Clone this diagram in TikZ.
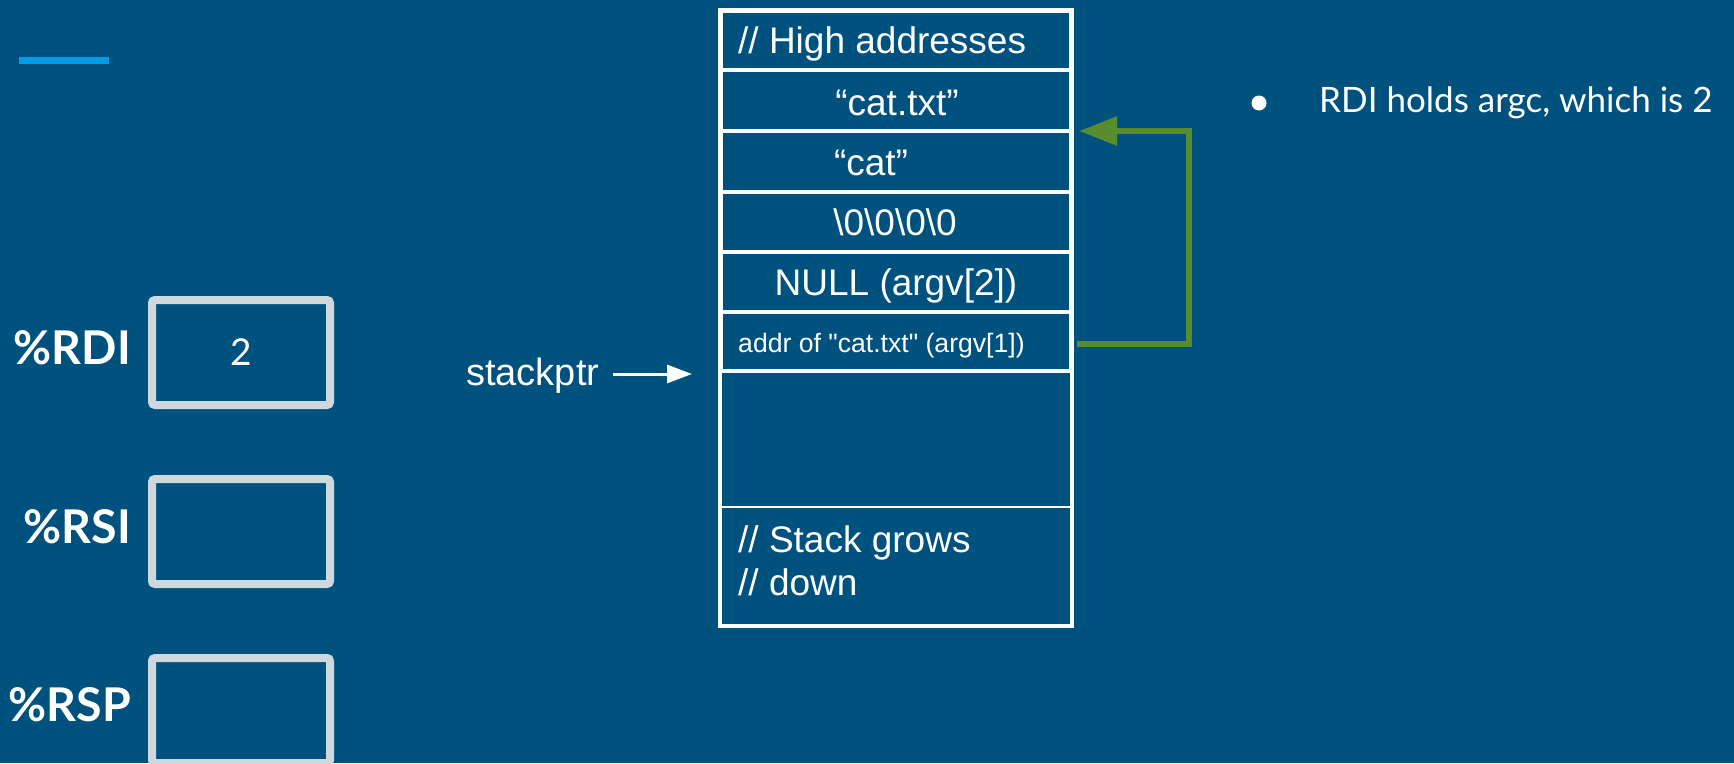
\documentclass[tikz,border=0pt]{standalone}
\usepackage{fontspec}
\newfontfamily\arial{Liberation Sans}
\newfontfamily\lato{Lato}
\usetikzlibrary{arrows.meta,fit}
\definecolor{bg}{RGB}{0,82,126}
\definecolor{regc}{RGB}{207,216,220}
\definecolor{barc}{RGB}{3,155,229}
\definecolor{grn}{RGB}{88,140,46}
\begin{document}
\begin{tikzpicture}[x=1pt,y=-1pt,
  reg/.style={draw=regc, line width=8pt, rounded corners=3pt, minimum width=178pt, minimum height=105pt, inner sep=0pt,
    text=white, font=\lato\fontsize{37}{44}\selectfont},
  reglbl/.style={anchor=east, inner sep=0pt, text=white, font=\lato\bfseries\fontsize{46.5}{54}\selectfont},
  cell/.style={draw=white, line width=4pt, minimum width=350pt, inner sep=0pt},
  thincell/.style={draw=white, line width=2pt, minimum width=350pt, inner sep=0pt},
  stxt/.style={inner sep=0pt, text=white, font=\arial\fontsize{37}{43}\selectfont},
  smalltxt/.style={inner sep=0pt, text=white, font=\arial\fontsize{26.6}{32}\selectfont},
  wa/.style={draw=white, line width=3pt, -{Triangle[length=25pt,width=18pt]}},
  ga/.style={draw=grn, line width=6pt, -{Triangle[length=38pt,width=28pt]}},
  bul/.style={inner sep=0pt, text=white, font=\lato\fontsize{35}{42}\selectfont}]
\useasboundingbox (0,0) rectangle (1734,763);
\fill[bg] (0,0) rectangle (1734,763);
% accent bar
\fill[barc] (19,57) rectangle (109,64);
% registers
\node[reg] (rdi) at (241,352.5) {2};
\node[reg] (rsi) at (241,531.5) {};
\node[reg] (rsp) at (241,710.5) {};
\node[reglbl] (lrdi) at (131,348) {\%RDI};
\node[reglbl] (lrsi) at (131,527) {\%RSI};
\node[reglbl] (lrsp) at (131,705) {\%RSP};
% stack cells
\node[cell, minimum height=59pt] (r1) at (896,40.5) {};
\node[cell, minimum height=61pt] (r2) at (896,100.5) {};
\node[cell, minimum height=61pt] (r3) at (896,161.5) {};
\node[cell, minimum height=60pt] (r4) at (896,222) {};
\node[cell, minimum height=60pt] (r5) at (896,282) {};
\node[cell, minimum height=59pt] (r6) at (896,341.5) {};
\node[thincell, minimum height=136pt] (r7) at (896,439) {};
\node[thincell, minimum height=119pt] (r8) at (896,566.5) {};
\node[fit=(r1)(r8), draw=white, line width=4pt, inner sep=-1pt] (frame) {};
% stack texts
\node[stxt, anchor=base west] (t1) at (738,53) {// High addresses};
\node[stxt, anchor=base] (t2) at (897,115) {“cat.txt”};
\node[stxt, anchor=base] (t3) at (871,175) {“cat”};
\node[stxt, anchor=base] (t4) at (895,235) {\textbackslash 0\textbackslash 0\textbackslash 0\textbackslash 0};
\node[stxt, anchor=base] (t5) at (896,295) {NULL (argv[2])};
\node[smalltxt, anchor=base west] (t6) at (738,352) {addr of "cat.txt" (argv[1])};
\node[stxt, anchor=base west] (t8a) at (738,552) {// Stack grows};
\node[stxt, anchor=base west] (t8b) at (738,595) {// down};
% stack pointer
\node[inner sep=0pt, text=white, font=\arial\fontsize{38}{45}\selectfont, anchor=base west] (sp) at (466,385) {stackptr};
\coordinate (spt) at (692,374);
\draw[wa] ([xshift=14pt]sp.east |- spt) -- (spt);
% green pointer arrow
\draw[ga] ([xshift=4pt]r6.east |- 0,344) -- (1189,344) |- ([xshift=6pt,yshift=-2pt]r3.north east);
% bullet
\node[circle, fill=white, minimum size=15pt, inner sep=0pt] (dot) at (1259,103) {};
\node[bul, anchor=base west] (btxt) at (1319,112) {RDI holds argc, which is 2};
\end{tikzpicture}
\end{document}
